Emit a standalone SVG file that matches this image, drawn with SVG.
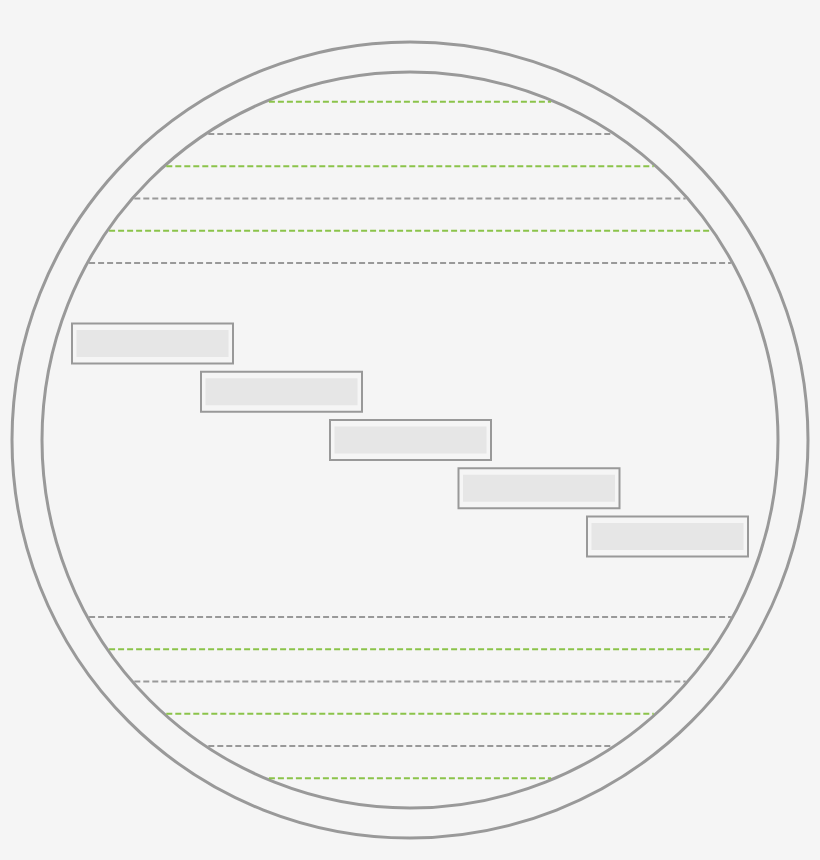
<svg xmlns="http://www.w3.org/2000/svg" width="820" height="860" viewBox="0 0 820 860">
<style>
.ring{fill:none;stroke:#999999;stroke-width:3}
.g{stroke:#8bc34a;stroke-width:2;stroke-dasharray:6 3;fill:none}
.k{stroke:#999999;stroke-width:2;stroke-dasharray:6 3;fill:none}
.box{fill:#f5f5f5;stroke:#999999;stroke-width:2}
.inner{fill:#e6e6e6;stroke:none}
</style>
<rect x="0" y="0" width="820" height="860" fill="#f5f5f5"/>
<g id="rings">
<circle class="ring" cx="410" cy="440" r="398"/>
<circle class="ring" cx="410" cy="440" r="368"/>
</g>
<g id="lines">
<line class="g" x1="268.9" y1="101.75" x2="551.1" y2="101.75"/>
<line class="k" x1="208.3" y1="134" x2="611.7" y2="134"/>
<line class="g" x1="166.3" y1="166.25" x2="653.7" y2="166.25"/>
<line class="k" x1="134.3" y1="198.5" x2="685.7" y2="198.5"/>
<line class="g" x1="109.1" y1="230.75" x2="710.9" y2="230.75"/>
<line class="k" x1="89.1" y1="263" x2="730.9" y2="263"/>
<line class="k" x1="89.1" y1="617" x2="730.9" y2="617"/>
<line class="g" x1="109.1" y1="649.25" x2="710.9" y2="649.25"/>
<line class="k" x1="134.3" y1="681.5" x2="685.7" y2="681.5"/>
<line class="g" x1="166.3" y1="713.75" x2="653.7" y2="713.75"/>
<line class="k" x1="208.3" y1="746" x2="611.7" y2="746"/>
<line class="g" x1="268.9" y1="778.25" x2="551.1" y2="778.25"/>
</g>
<g id="node1"><rect class="box" x="72" y="323.5" width="161" height="40"/><rect class="inner" x="76.5" y="330" width="152" height="27"/></g>
<g id="node2"><rect class="box" x="201" y="371.75" width="161" height="40"/><rect class="inner" x="205.5" y="378.25" width="152" height="27"/></g>
<g id="node3"><rect class="box" x="330" y="420" width="161" height="40"/><rect class="inner" x="334.5" y="426.5" width="152" height="27"/></g>
<g id="node4"><rect class="box" x="458.5" y="468.25" width="161" height="40"/><rect class="inner" x="463" y="474.75" width="152" height="27"/></g>
<g id="node5"><rect class="box" x="587" y="516.5" width="161" height="40"/><rect class="inner" x="591.5" y="523" width="152" height="27"/></g>
</svg>
